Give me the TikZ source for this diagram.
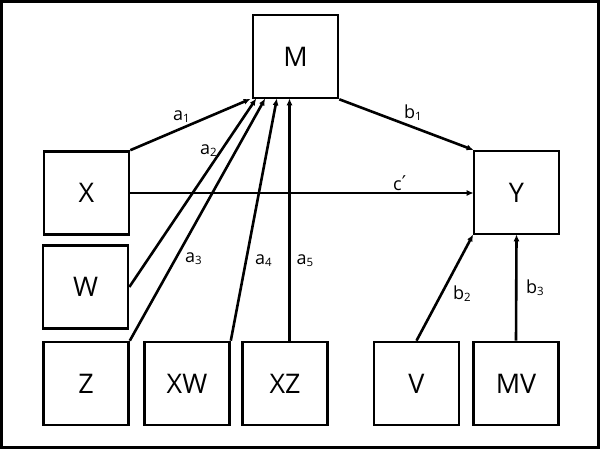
\documentclass[tikz,border=0pt]{standalone}
\usepackage{fontspec}
\setmainfont{Open Sans}
\newfontfamily\primefont{DejaVu Sans}
\usetikzlibrary{arrows.meta}
\newcommand{\lbl}[2]{{\fontsize{18}{18}\selectfont #1}\raisebox{-2.5pt}{\fontsize{11.5}{11.5}\selectfont #2}}
\tikzset{
  box/.style={draw, line width=2.6pt, minimum width=85pt, minimum height=83pt, inner sep=0pt, font=\fontsize{27}{27}\selectfont},
  arr/.style={line width=2.6pt, -{Latex[length=7pt,width=6pt]}, shorten >=-1pt},
  lab/.style={inner sep=0pt, anchor=base west}
}
\begin{document}
\begin{tikzpicture}[x=1pt,y=-1pt]
\useasboundingbox (0,0) rectangle (604,450);
\draw[line width=3pt] (1.5,1.5) rectangle (598,447);
\node[box] (M) at (295.5,56.5) {M};
\node[box] (X) at (86.5,193) {X};
\node[box] (W) at (85.5,287) {W};
\node[box] (Z) at (86,383.5) {Z};
\node[box] (XW) at (187,383.5) {XW};
\node[box] (XZ) at (285,383.5) {XZ};
\node[box] (V) at (416.5,383.5) {V};
\node[box] (MV) at (516,383.5) {MV};
\node[box] (Y) at (516.5,192.5) {Y};
\draw[arr] (X.north east) -- ([xshift=-2]M.south west);
\draw[arr] (W.east) -- ([xshift=4]M.south west);
\draw[arr] (Z.north east) -- ([xshift=13]M.south west);
\draw[arr] (XW.north east) -- ([xshift=25]M.south west);
\draw[arr] ([xshift=4.5]XZ.north) -- ([xshift=4.5]XZ.north |- M.south);
\draw[arr] (M.south east) -- (Y.north west);
\draw[arr] (X.east) -- (X.east -| Y.west);
\draw[arr] (V.north) -- (Y.south west);
\draw[arr] (MV.north) -- (Y.south);
\node[lab] (la1) at (173,120) {\lbl{a}{1}};
\node[lab] (la2) at (200,154) {\lbl{a}{2}};
\node[lab] (la3) at (185,262) {\lbl{a}{3}};
\node[lab] (la4) at (255,264) {\lbl{a}{4}};
\node[lab] (la5) at (296.5,264) {\lbl{a}{5}};
\node[lab] (lb1) at (404,118) {\lbl{b}{1}};
\node[lab] (lc) at (393,190) {{\fontsize{18}{18}\selectfont c}\raisebox{1pt}{\fontsize{19}{19}\primefont ′}};
\node[lab] (lb2) at (453,299) {\lbl{b}{2}};
\node[lab] (lb3) at (526,293) {\lbl{b}{3}};
\end{tikzpicture}
\end{document}
